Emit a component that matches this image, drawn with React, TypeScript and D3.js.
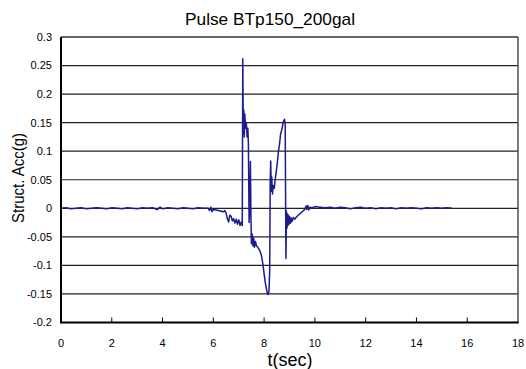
import React from "react";
import * as d3 from "d3";

// Structural acceleration record (time in seconds, acceleration in g)
const timeSec = [
  0, 0.2, 0.4, 0.6, 0.8, 1.0, 1.2, 1.4, 1.6, 1.8, 2.0, 2.2, 2.4, 2.6, 2.8,
  3.0, 3.2, 3.4, 3.6, 3.8, 3.9, 4.0, 4.2, 4.4, 4.6, 4.8, 5.0, 5.2, 5.4, 5.6, 5.8,
  5.85, 5.9, 5.95, 6.0, 6.1, 6.2, 6.3, 6.4, 6.45,
  6.5, 6.55, 6.6, 6.65, 6.7, 6.75, 6.8, 6.85, 6.9, 6.95, 7.0, 7.05, 7.1, 7.14,
  7.16, 7.18, 7.2, 7.22, 7.24, 7.27, 7.3, 7.33, 7.36, 7.38,
  7.41, 7.44, 7.46, 7.48, 7.5, 7.53, 7.56, 7.59, 7.62, 7.66, 7.7, 7.75, 7.8,
  7.85, 7.9, 7.95, 8.0, 8.05, 8.1, 8.15, 8.19, 8.22,
  8.24, 8.26, 8.28, 8.3, 8.33, 8.36, 8.4, 8.43, 8.47, 8.51, 8.56, 8.6, 8.65,
  8.7, 8.75, 8.8, 8.83,
  8.86, 8.88, 8.9, 8.92, 8.94, 8.96, 8.98, 9.01, 9.04, 9.07, 9.1, 9.15, 9.2,
  9.3, 9.4, 9.5, 9.6, 9.65, 9.68, 9.72, 9.76, 9.8, 9.9,
  10.0, 10.2, 10.4, 10.6, 10.8, 11.0, 11.2, 11.4, 11.6, 11.8, 12.0, 12.2, 12.4,
  12.6, 12.8, 13.0, 13.2, 13.4, 13.6, 13.8, 14.0, 14.2, 14.4, 14.6, 14.8, 15.0,
  15.2, 15.4,
];

const accelG = [
  0.0, 0.001, -0.001, 0.0, 0.001, -0.001, 0.0, 0.001, 0.0, -0.001, 0.001, 0.0, -0.001, 0.001, 0.0,
  -0.001, 0.001, 0.0, 0.001, -0.002, 0.002, -0.001, 0.001, 0.0, -0.001, 0.001, 0.0, -0.001, 0.001, 0.0, 0.0,
  -0.004, 0.002, -0.006, -0.002, -0.003, -0.004, -0.005, -0.006, -0.004,
  -0.008, -0.018, -0.024, -0.012, -0.014, -0.022, -0.018, -0.026, -0.019, -0.028, -0.02, -0.03, -0.024, -0.03,
  0.262, 0.13, 0.172, 0.125, 0.165, 0.14, 0.15, 0.125, 0.14, 0.115,
  -0.025, 0.01, 0.082, -0.01, -0.062, -0.045, -0.066, -0.052, -0.068, -0.058, -0.066, -0.068, -0.072,
  -0.076, -0.084, -0.097, -0.115, -0.131, -0.143, -0.151, -0.146, -0.11,
  0.045, 0.083, 0.03, 0.055, 0.025, 0.04, 0.035, 0.048, 0.062, 0.075, 0.098, 0.11, 0.13,
  0.138, 0.15, 0.156, 0.148,
  -0.088, -0.005, -0.035, -0.01, -0.03, -0.012, -0.028, -0.015, -0.026, -0.017, -0.023, -0.016, -0.019,
  -0.014, -0.01, -0.006, -0.002, 0.004, -0.002, 0.005, -0.003, 0.002, 0.001,
  0.003, 0.002, 0.001, 0.002, 0.0, 0.002, 0.001, -0.001, 0.001, 0.002, 0.0, 0.001, -0.001,
  0.001, 0.0, 0.001, -0.001, 0.001, 0.0, 0.001, 0.0, -0.001, 0.001, 0.0, 0.001, 0.0,
  0.001, 0.0,
];

const xTicks = [0, 2, 4, 6, 8, 10, 12, 14, 16, 18];
const yTicks = [-0.2, -0.15, -0.1, -0.05, 0, 0.05, 0.1, 0.15, 0.2, 0.25, 0.3];
const yTickLabels = ["-0.2", "-0.15", "-0.1", "-0.05", "0", "0.05", "0.1", "0.15", "0.2", "0.25", "0.3"];

const FONT = "'Liberation Sans', Arial, sans-serif";

export default function App() {
  const W = 526;
  const H = 369;
  const left = 61;
  const right = 518;
  const top = 37;
  const bottom = 322.5;

  const x = d3.scaleLinear().domain([0, 18]).range([left, right]);
  const y = d3.scaleLinear().domain([-0.2, 0.3]).range([bottom, top]);

  const points: [number, number][] = timeSec.map((t, i) => [t, accelG[i]]);
  const path = d3
    .line<[number, number]>()
    .x((d) => x(d[0]))
    .y((d) => y(d[1]))(points) as string;

  return (
    <svg
      width={W}
      height={H}
      viewBox={`0 0 ${W} ${H}`}
      style={{ position: "absolute", left: 0, top: 0, background: "#fff" }}
    >
      <rect x={0} y={0} width={W} height={H} fill="#fff" />

      {/* horizontal gridlines */}
      {yTicks.slice(1, -1).map((v) => (
        <line
          key={`g${v}`}
          x1={left}
          x2={right}
          y1={y(v)}
          y2={y(v)}
          stroke="#222"
          strokeWidth={1.2}
        />
      ))}

      {/* plot frame: top and right */}
      <line x1={left} x2={right} y1={top} y2={top} stroke="#333" strokeWidth={1.3} />
      <line x1={right} x2={right} y1={top} y2={bottom} stroke="#444" strokeWidth={1.4} />

      {/* acceleration trace */}
      <path d={path} fill="none" stroke="#1c1c8e" strokeWidth={1.5} strokeLinejoin="round" />

      {/* axes */}
      <line x1={left} x2={left} y1={top} y2={bottom + 1} stroke="#000" strokeWidth={2} />
      <line x1={left} x2={right + 0.7} y1={bottom} y2={bottom} stroke="#000" strokeWidth={2} />

      {/* x ticks (inside) */}
      {xTicks.slice(1, -1).map((t) => (
        <line key={`xt${t}`} x1={x(t)} x2={x(t)} y1={bottom} y2={bottom - 5} stroke="#000" strokeWidth={1} />
      ))}

      {/* x tick labels */}
      {xTicks.map((t) => (
        <text
          key={`xl${t}`}
          x={x(t)}
          y={347}
          textAnchor="middle"
          fontFamily={FONT}
          fontSize={11}
          fill="#000"
        >
          {t}
        </text>
      ))}

      {/* y tick labels */}
      {yTicks.map((v, i) => (
        <text
          key={`yl${v}`}
          x={52}
          y={y(v)}
          dy="0.35em"
          textAnchor="end"
          fontFamily={FONT}
          fontSize={11}
          fill="#000"
        >
          {yTickLabels[i]}
        </text>
      ))}

      {/* title */}
      <text
        x={270}
        y={25}
        textAnchor="middle"
        fontFamily={FONT}
        fontSize={17}
        textLength={170}
        lengthAdjust="spacingAndGlyphs"
        fill="#000"
      >
        Pulse BTp150_200gal
      </text>

      {/* x axis title */}
      <text
        x={290}
        y={366}
        textAnchor="middle"
        fontFamily={FONT}
        fontSize={18}
        textLength={45}
        lengthAdjust="spacingAndGlyphs"
        fill="#000"
      >
        t(sec)
      </text>

      {/* y axis title */}
      <text
        transform={`translate(24, 178) rotate(-90)`}
        textAnchor="middle"
        fontFamily={FONT}
        fontSize={17}
        textLength={90}
        lengthAdjust="spacingAndGlyphs"
        fill="#000"
      >
        Struct. Acc(g)
      </text>
    </svg>
  );
}
